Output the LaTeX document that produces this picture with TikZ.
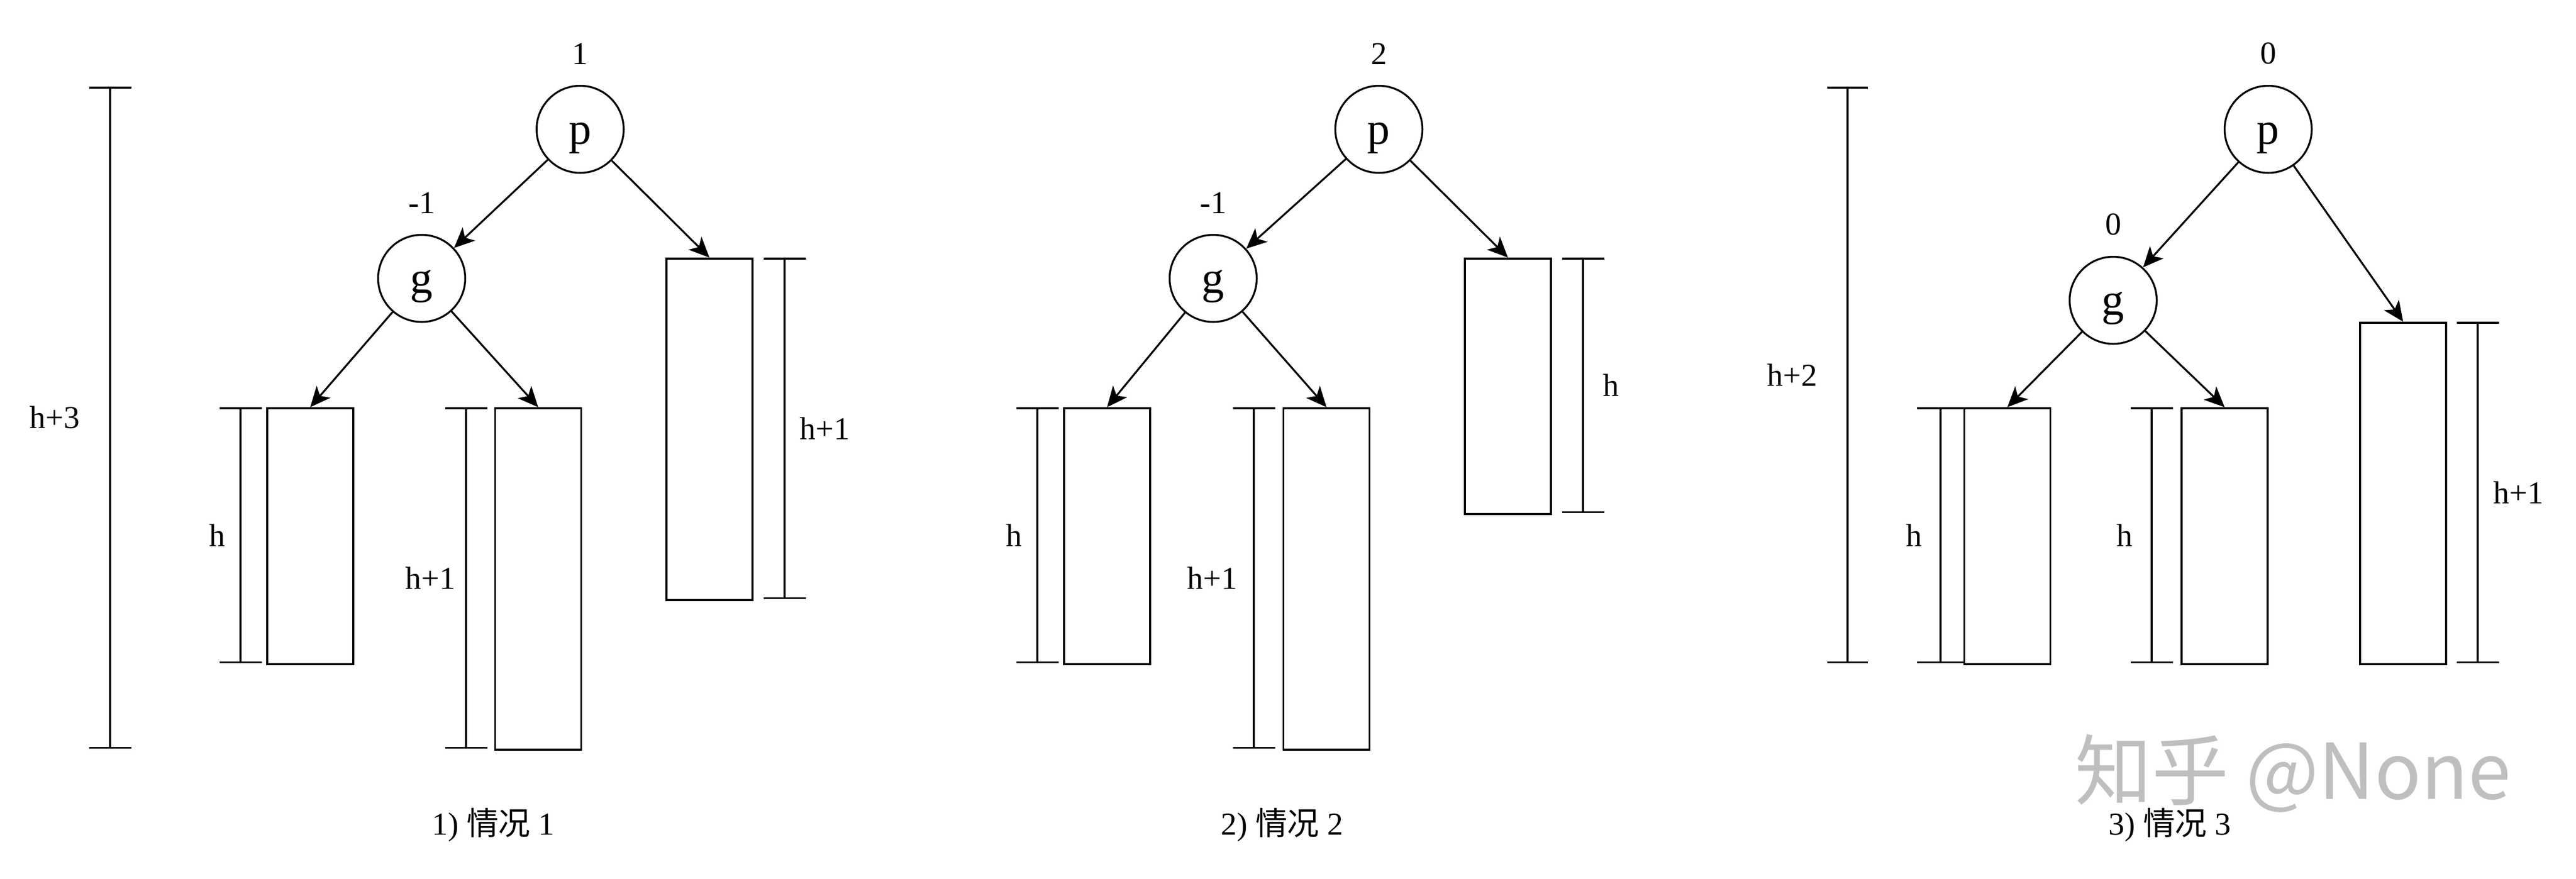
\documentclass[tikz,border=0pt]{standalone}
\usepackage{fontspec}
\setmainfont{Liberation Serif}
\newfontfamily\cjk{Noto Sans CJK SC}
\usetikzlibrary{arrows.meta,automata,positioning}

\tikzset{measure/.style={{Bar[width=#1]}-{Bar[width=#1]}}, measure/.default=.79cm}

\begin{document}
\begin{tikzpicture}[->,>={Stealth[length=.38cm,width=.34cm,inset=.1cm]},line width=1pt,
        font=\fontsize{17}{20}\selectfont]
    \tikzstyle{every state}=[fill=white,draw=black,text=black,minimum size=1.63cm,inner sep=0pt,
        font=\fontsize{24}{28}\selectfont,text height=.55cm,text depth=0pt]
    \tikzstyle{subtree}=[draw,minimum width=1.61cm,inner sep=0pt,anchor=north]
    \tikzstyle{bal}=[inner sep=0pt]

    \useasboundingbox (0,0) rectangle (48.2,-16.44);

    % case 1
    \node[state] (p1) at (10.855,-2.42) {p};
    \node[state,on grid] (g1) [below left=2.79cm and 2.965cm of p1] {g};
    \node[bal] (bp1) [above=.37cm of p1] {1};
    \node[bal] (bg1) [above=.37cm of g1] {-1};

    \node[subtree,minimum height=4.79cm] (a1) at (5.805,-7.62) {};
    \node[subtree,minimum height=6.39cm] (b1) at (10.07,-7.62) {};
    \node[subtree,minimum height=6.39cm] (c1) at (13.275,-4.82) {};

    \path   (p1) edge (g1)
                 edge (c1.north)
            (g1) edge (a1.north)
                 edge (b1.north);

    \draw[measure] (2.06,-1.62) -- node[bal,left=.55cm] {h+3} (2.06,-14.01);
    \draw[measure] (4.50,-7.62) -- node[bal,left=.27cm] {h} (4.50,-12.41);
    \draw[measure] (8.72,-7.62) -- node[bal,left=.18cm] {h+1} (8.72,-14.01);
    \draw[measure] (14.68,-4.82) -- node[bal,right=.27cm] {h+1} (14.68,-11.21);

    \node[anchor=base] (cap1) at (9.23,-15.62) {1) {\cjk 情况} 1};

    % case 2
    \node[state] (p2) at (25.80,-2.42) {p};
    \node[state,on grid] (g2) [below left=2.79cm and 3.10cm of p2] {g};
    \node[bal] (bp2) [above=.37cm of p2] {2};
    \node[bal] (bg2) [above=.37cm of g2] {-1};

    \node[subtree,minimum height=4.79cm] (a2) at (20.715,-7.62) {};
    \node[subtree,minimum height=6.39cm] (b2) at (24.82,-7.62) {};
    \node[subtree,minimum height=4.78cm] (c2) at (28.215,-4.82) {};

    \path   (p2) edge (g2)
                 edge (c2.north)
            (g2) edge (a2.north)
                 edge (b2.north);

    \draw[measure] (19.41,-7.62) -- node[bal,left=.27cm] {h} (19.41,-12.41);
    \draw[measure] (23.46,-7.62) -- node[bal,left=.29cm] {h+1} (23.46,-14.01);
    \draw[measure] (29.62,-4.82) -- node[bal,right=.36cm] {h} (29.62,-9.60);

    \node[anchor=base] (cap2) at (23.99,-15.62) {2) {\cjk 情况} 2};

    % case 3
    \node[state] (p3) at (42.44,-2.42) {p};
    \node[state,on grid] (g3) [below left=3.20cm and 2.90cm of p3] {g};
    \node[bal] (bp3) [above=.37cm of p3] {0};
    \node[bal] (bg3) [above=.37cm of g3] {0};

    \node[subtree,minimum height=4.79cm] (a3) at (37.56,-7.62) {};
    \node[subtree,minimum height=4.79cm] (b3) at (41.625,-7.62) {};
    \node[subtree,minimum height=6.39cm] (c3) at (44.965,-6.02) {};

    \path   (p3) edge (g3)
                 edge (c3.north)
            (g3) edge (a3.north)
                 edge (b3.north);

    \draw[measure=.76cm] (34.57,-1.62) -- node[bal,left=.55cm] {h+2} (34.57,-12.41);
    \draw[measure=.89cm] (36.31,-7.62) -- node[bal,left=.33cm] {h} (36.31,-12.41);
    \draw[measure] (40.26,-7.62) -- node[bal,left=.34cm] {h} (40.26,-12.41);
    \draw[measure] (46.36,-6.02) -- node[bal,right=.28cm] {h+1} (46.36,-12.41);

    \node[anchor=base] (cap3) at (40.60,-15.62) {3) {\cjk 情况} 3};

    \node[text=black!25,font={\cjk\fontsize{41}{44}\selectfont}] (mark) at (42.9,-14.47) {知乎 @None};
\end{tikzpicture}
\end{document}
